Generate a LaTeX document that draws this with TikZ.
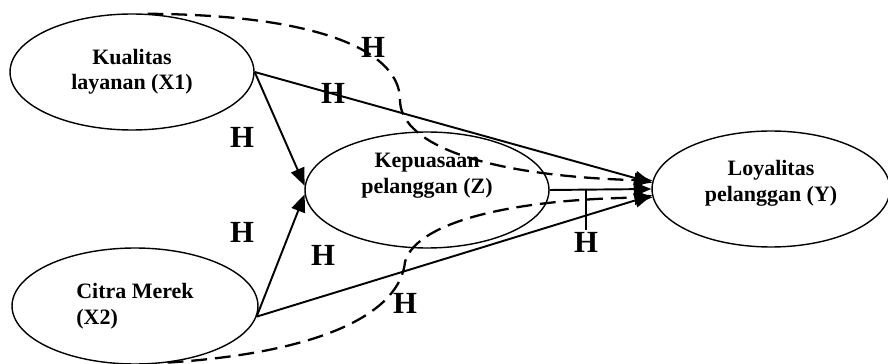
\documentclass[tikz,border=0pt]{standalone}
\usepackage{fontspec}
\setmainfont{Liberation Serif}
\usetikzlibrary{shapes.geometric,arrows.meta}
\tikzset{
  var/.style={draw,ellipse,line width=0.8pt,minimum width=4.88cm,minimum height=2.32cm,
    inner sep=0pt,align=center,font=\bfseries\fontsize{12.5}{14.5}\selectfont},
  link/.style={line width=1.1pt,-{Triangle[length=10pt,width=8pt]}},
  mlink/.style={link,line width=1.3pt,dash pattern=on 9pt off 4.5pt},
  hyp/.style={font=\bfseries\fontsize{17.5}{20}\selectfont,inner sep=1pt}
}
\begin{document}
\begin{tikzpicture}[x=0.02cm,y=-0.02cm]
                \useasboundingbox (0,0) rectangle (888,364);
                \node[var] (X1) at (132,72) {Kualitas\\layanan (X1)};
                \node[var,text depth=19pt] (Z) at (427,190) {Kepuasaan\\pelanggan (Z)};
                \node[var,minimum width=4.76cm,text depth=9pt] (Y) at (771,189) {Loyalitas\\pelanggan (Y)};
                \node[var,align=left,minimum width=4.92cm] (X2) at (135,306) {Citra Merek\\(X2)};
                \draw[link] (X1.east) -- (Z.178);
                \draw[link] (X2.355) -- (Z.182);
                \draw[link] (X1.east) -- (Y.177);
                \draw[link] (X2.355) -- (Y.183);
                \draw[link] (Z.east) -- (Y.west);
                \draw[mlink] (X1.75) .. controls (330,15) and (400,55) .. (400,100)
                    .. controls (400,140) and (470,175) .. (Y.176);
                \draw[mlink] (X2.300) .. controls (330,352) and (400,310) .. (405,262)
                    .. controls (415,225) and (500,200) .. (Y.184);
                \node[hyp] (h1) at (373,47) {H};
                \node[hyp] (h2) at (333,93) {H};
                \node[hyp] (h3) at (242,137) {H};
                \node[hyp] (h4) at (242,232) {H};
                \node[hyp] (h5) at (323,255) {H};
                \node[hyp] (h6) at (405,303) {H};
                \node[hyp] (h7) at (586,242) {H};
                \draw[line width=0.9pt] (h7.north) -- (h7.north |- Z.east);
            \end{tikzpicture}
\end{document}
